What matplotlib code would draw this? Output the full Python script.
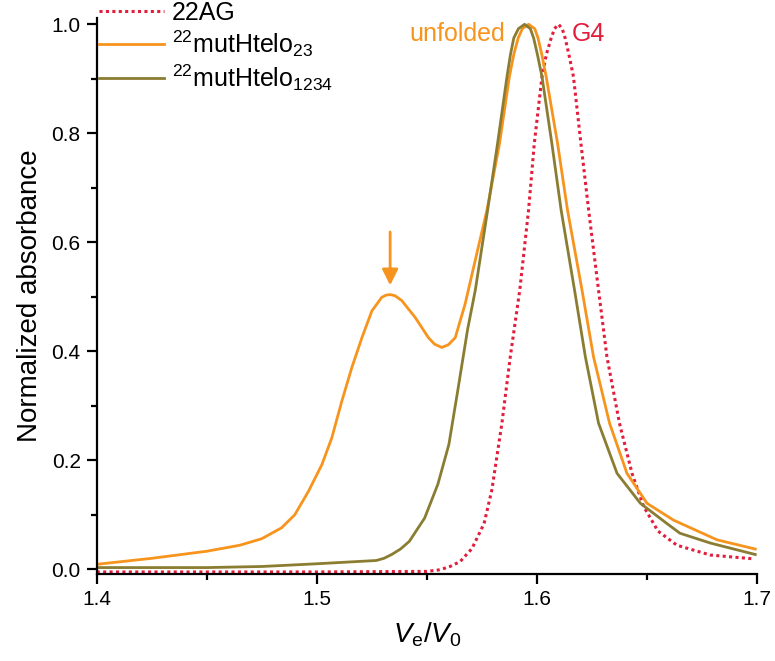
import numpy as np
import matplotlib
matplotlib.use('Agg')
import matplotlib.pyplot as plt
from matplotlib.ticker import MultipleLocator, FormatStrFormatter

plt.rcParams['font.family'] = ['Liberation Sans', 'DejaVu Sans']
plt.rcParams['mathtext.fontset'] = 'custom'
plt.rcParams['mathtext.rm'] = 'Liberation Sans'
plt.rcParams['mathtext.it'] = 'Liberation Sans:italic'

# elution profiles (Ve/V0 vs normalized absorbance)
ag22_x = [1.40, 1.50, 1.55, 1.556, 1.5605, 1.5651, 1.5705, 1.576, 1.5795, 1.5841,
          1.5879, 1.5922, 1.5962, 1.5988, 1.6023, 1.6043, 1.6065, 1.608, 1.6098,
          1.6115, 1.6128, 1.6145, 1.6166, 1.620, 1.6235, 1.628, 1.6318, 1.6375,
          1.6432, 1.6485, 1.655, 1.6636, 1.6788, 1.6985]
ag22_y = [-0.005, -0.005, -0.004, -0.001, 0.005, 0.014, 0.038, 0.084, 0.145, 0.268,
          0.39, 0.512, 0.659, 0.781, 0.904, 0.945, 0.975, 0.992, 1.0,
          0.992, 0.975, 0.945, 0.904, 0.781, 0.659, 0.512, 0.39, 0.268,
          0.176, 0.115, 0.070, 0.044, 0.026, 0.019]

mut23_x = [1.40, 1.425, 1.45, 1.465, 1.475, 1.484, 1.490, 1.4962, 1.5023, 1.5068,
           1.5114, 1.5159, 1.5205, 1.525, 1.5295, 1.5315, 1.5333, 1.5355, 1.5386,
           1.5447, 1.5507, 1.5535, 1.5568, 1.5598, 1.5629, 1.5674, 1.571, 1.5773,
           1.583, 1.5875, 1.5895, 1.5915, 1.5934, 1.5962, 1.599, 1.6005, 1.6022,
           1.6042, 1.6094, 1.6139, 1.6205, 1.6257, 1.633, 1.6409, 1.650, 1.6621,
           1.6818, 1.6992]
mut23_y = [0.009, 0.020, 0.033, 0.044, 0.056, 0.076, 0.100, 0.143, 0.192, 0.241,
           0.309, 0.370, 0.425, 0.474, 0.499, 0.503, 0.504, 0.502, 0.493,
           0.462, 0.425, 0.413, 0.407, 0.412, 0.425, 0.487, 0.550, 0.659,
           0.781, 0.904, 0.945, 0.975, 0.992, 1.0, 0.992, 0.975, 0.945,
           0.904, 0.781, 0.659, 0.512, 0.390, 0.268, 0.176, 0.121, 0.090,
           0.054, 0.037]

mut1234_x = [1.40, 1.45, 1.475, 1.50, 1.527, 1.5305, 1.534, 1.538, 1.542, 1.549,
             1.555, 1.560, 1.564, 1.5685, 1.572, 1.5776, 1.5821, 1.5864, 1.588,
             1.5895, 1.5916, 1.5944, 1.597, 1.5985, 1.6002, 1.6023, 1.6068, 1.611,
             1.6171, 1.622, 1.628, 1.6364, 1.647, 1.659, 1.665, 1.6788, 1.6992]
mut1234_y = [0.003, 0.003, 0.005, 0.010, 0.016, 0.020, 0.027, 0.037, 0.051, 0.094,
             0.156, 0.229, 0.327, 0.440, 0.512, 0.659, 0.781, 0.904, 0.945,
             0.975, 0.992, 1.0, 0.992, 0.975, 0.945, 0.904, 0.781, 0.659,
             0.512, 0.390, 0.268, 0.176, 0.121, 0.084, 0.066, 0.048, 0.027]

shoulder_x = 1.5333
shoulder_y = 0.504

c_red = '#e31d3c'
c_orange = '#f7941d'
c_olive = '#8a7d32'

fig = plt.figure(figsize=(7.75, 6.61), dpi=100)
ax = fig.add_axes([0.1248, 0.1316, 0.852, 0.841])

ax.plot(ag22_x, ag22_y, color=c_red, lw=2.2, linestyle=(0, (1, 1.1)), label='22AG')
ax.plot(mut23_x, mut23_y, color=c_orange, lw=2.0, label=r'$^{22}$mutHtelo$_{23}$')
ax.plot(mut1234_x, mut1234_y, color=c_olive, lw=2.0, label=r'$^{22}$mutHtelo$_{1234}$')

# arrow over the shoulder peak
ax.annotate('', xy=(shoulder_x, shoulder_y + 0.017), xytext=(shoulder_x, shoulder_y + 0.115),
            arrowprops=dict(arrowstyle='-|>', color=c_orange, lw=2.0,
                            mutation_scale=24, shrinkA=0, shrinkB=0))

ax.text(1.5856, 0.982, 'unfolded', color=c_orange, fontsize=18, ha='right', va='center')
ax.text(1.6159, 0.982, 'G4', color=c_red, fontsize=18, ha='left', va='center')

ax.set_xlim(1.4, 1.7)
ax.set_ylim(-0.0088, 1.0114)
ax.xaxis.set_major_locator(MultipleLocator(0.1))
ax.xaxis.set_minor_locator(MultipleLocator(0.05))
ax.yaxis.set_major_locator(MultipleLocator(0.2))
ax.yaxis.set_minor_locator(MultipleLocator(0.1))
ax.xaxis.set_major_formatter(FormatStrFormatter('%.1f'))
ax.yaxis.set_major_formatter(FormatStrFormatter('%.1f'))

for s in ['top', 'right']:
    ax.spines[s].set_visible(False)
for s in ['left', 'bottom']:
    ax.spines[s].set_linewidth(1.6)
ax.tick_params(which='major', direction='out', length=7.5, width=1.6, labelsize=15, pad=4)
ax.tick_params(which='minor', direction='out', length=4, width=1.6)

ax.set_xlabel(r'$V_\mathrm{e}/V_0$', fontsize=20, labelpad=8)
ax.set_ylabel('Normalized absorbance', fontsize=20, labelpad=6)

ax.legend(loc='upper left', bbox_to_anchor=(0.128, 0.999), bbox_transform=fig.transFigure,
          frameon=False, fontsize=18, handlelength=2.6, handletextpad=0.3,
          labelspacing=0.15, borderaxespad=0, borderpad=0)

plt.savefig('out.png', dpi=100)
plt.close()
